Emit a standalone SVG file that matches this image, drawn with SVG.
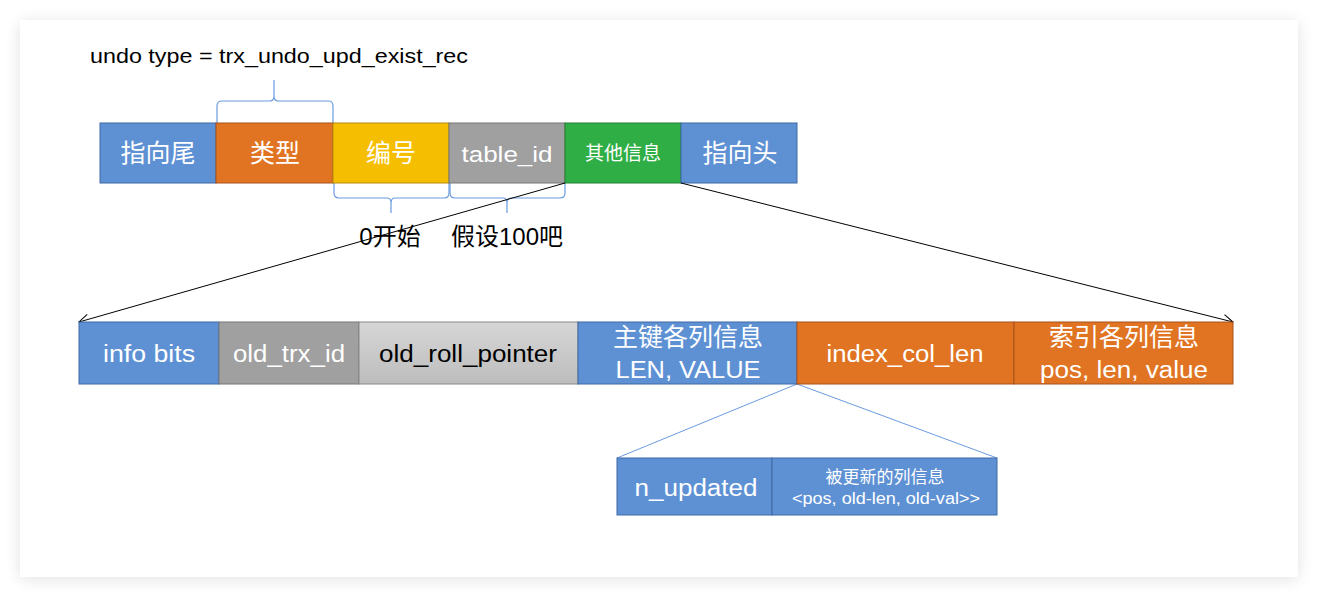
<svg xmlns="http://www.w3.org/2000/svg" width="1318" height="597" viewBox="0 0 1318 597">
<defs>
<filter id="sh" x="-5%" y="-5%" width="110%" height="115%"><feGaussianBlur in="SourceAlpha" stdDeviation="8"/><feOffset dy="2"/><feComponentTransfer><feFuncA type="linear" slope="0.12"/></feComponentTransfer><feMerge><feMergeNode/><feMergeNode in="SourceGraphic"/></feMerge></filter>
<linearGradient id="lg" x1="0" y1="0" x2="0" y2="1"><stop offset="0" stop-color="#D6D6D6"/><stop offset="1" stop-color="#BDBDBD"/></linearGradient>
<marker id="ah" viewBox="0 0 12 12" refX="11" refY="6" markerWidth="12" markerHeight="12" markerUnits="userSpaceOnUse" orient="auto"><path d="M1,1 L11,6 L1,11" fill="none" stroke="#000" stroke-width="1"/></marker>
</defs>
<style>
.t{font-family:"Liberation Sans","Noto Sans CJK SC",sans-serif;text-anchor:middle;dominant-baseline:central}
.w{fill:#fff}
.b{fill:#000}
.blue{fill:#5E91D4;stroke:#3F69A6;stroke-width:1}
.orange{fill:#E07422;stroke:#A8531B;stroke-width:1}
.yellow{fill:#F5BE00;stroke:#B38A10;stroke-width:1}
.gray{fill:#A0A0A0;stroke:#777;stroke-width:1}
.green{fill:#2FAE45;stroke:#237F33;stroke-width:1}
.lgray{fill:url(#lg);stroke:#888;stroke-width:1}
.brace{fill:none;stroke:#6A9BE0;stroke-width:1.2}
.conn{fill:none;stroke:#000;stroke-width:1}
.bconn{fill:none;stroke:#6A9BE0;stroke-width:1}
</style>
<rect width="1318" height="597" fill="#fff"/>
<rect x="20" y="20" width="1278" height="557" fill="#fff" filter="url(#sh)"/>
<text class="t b" x="279" y="55" font-size="21" textLength="378" lengthAdjust="spacingAndGlyphs">undo type = trx_undo_upd_exist_rec</text>
<g id="braces">
<path class="brace" d="M217,123 V106 Q217,101 222,101 H270 Q274,101 274,96 V80 V96 Q274,101 278,101 H328 Q333,101 333,106 V123"/>
<path class="brace" d="M334,183 V193 Q334,198 339,198 H387 Q391,198 391,203 V213 V203 Q391,198 395,198 H444 Q449,198 449,193 V183"/>
<path class="brace" d="M450,183 V193 Q450,198 455,198 H503 Q507,198 507,203 V213 V203 Q507,198 511,198 H560 Q565,198 565,193 V183"/>
</g>
<g id="top-row">
<g id="n-tail"><rect class="blue" x="100" y="123" width="116" height="60"/><text class="t w" x="158" y="153" font-size="25">指向尾</text></g>
<g id="n-type"><rect class="orange" x="216" y="123" width="117" height="60"/><text class="t w" x="275" y="153" font-size="25">类型</text></g>
<g id="n-no"><rect class="yellow" x="333" y="123" width="116" height="60"/><text class="t w" x="391" y="153" font-size="25">编号</text></g>
<g id="n-table"><rect class="gray" x="449" y="123" width="116" height="60"/><text class="t w" x="507" y="154" font-size="22" textLength="91" lengthAdjust="spacingAndGlyphs">table_id</text></g>
<g id="n-other"><rect class="green" x="565" y="123" width="116" height="60"/><text class="t w" x="623" y="153" font-size="19">其他信息</text></g>
<g id="n-head"><rect class="blue" x="681" y="123" width="116" height="60"/><text class="t w" x="740" y="153" font-size="25">指向头</text></g>
</g>
<text class="t b" x="390" y="236" font-size="24">0开始</text>
<text class="t b" x="507" y="236" font-size="24">假设100吧</text>
<g id="connectors">
<line class="conn" x1="565" y1="183" x2="79" y2="322" marker-end="url(#ah)"/>
<line class="conn" x1="681" y1="183" x2="1233" y2="322" marker-end="url(#ah)"/>
<line class="bconn" x1="797" y1="384" x2="617" y2="458"/>
<line class="bconn" x1="797" y1="384" x2="997" y2="458"/>
</g>
<g id="mid-row">
<g id="n-info"><rect class="blue" x="79" y="322" width="140" height="62"/><text class="t w" x="149" y="354" font-size="23" textLength="92" lengthAdjust="spacingAndGlyphs">info bits</text></g>
<g id="n-oldtrx"><rect class="gray" x="219" y="322" width="140" height="62"/><text class="t w" x="289" y="354" font-size="23" textLength="112" lengthAdjust="spacingAndGlyphs">old_trx_id</text></g>
<g id="n-oldroll"><rect class="lgray" x="359" y="322" width="219" height="62"/><text class="t b" x="468" y="354" font-size="23" textLength="178" lengthAdjust="spacingAndGlyphs">old_roll_pointer</text></g>
<g id="n-pk"><rect class="blue" x="578" y="322" width="219" height="62"/><text class="t w" x="688" y="337" font-size="25">主键各列信息</text><text class="t w" x="688" y="370" font-size="23" textLength="145" lengthAdjust="spacingAndGlyphs">LEN, VALUE</text></g>
<g id="n-idxlen"><rect class="orange" x="797" y="322" width="217" height="62"/><text class="t w" x="905" y="354" font-size="23" textLength="157" lengthAdjust="spacingAndGlyphs">index_col_len</text></g>
<g id="n-idx"><rect class="orange" x="1014" y="322" width="219" height="62"/><text class="t w" x="1124" y="337" font-size="25">索引各列信息</text><text class="t w" x="1124" y="370" font-size="23" textLength="168" lengthAdjust="spacingAndGlyphs">pos, len, value</text></g>
</g>
<g id="sub-row">
<g id="n-nupd"><rect class="blue" x="617" y="458" width="155" height="57"/><text class="t w" x="696" y="488" font-size="23" textLength="123" lengthAdjust="spacingAndGlyphs">n_updated</text></g>
<g id="n-upd"><rect class="blue" x="772" y="458" width="225" height="57"/><text class="t w" x="885" y="477" font-size="17">被更新的列信息</text><text class="t w" x="886" y="498" font-size="16" textLength="188" lengthAdjust="spacingAndGlyphs">&lt;pos, old-len, old-val&gt;&gt;</text></g>
</g>
</svg>
